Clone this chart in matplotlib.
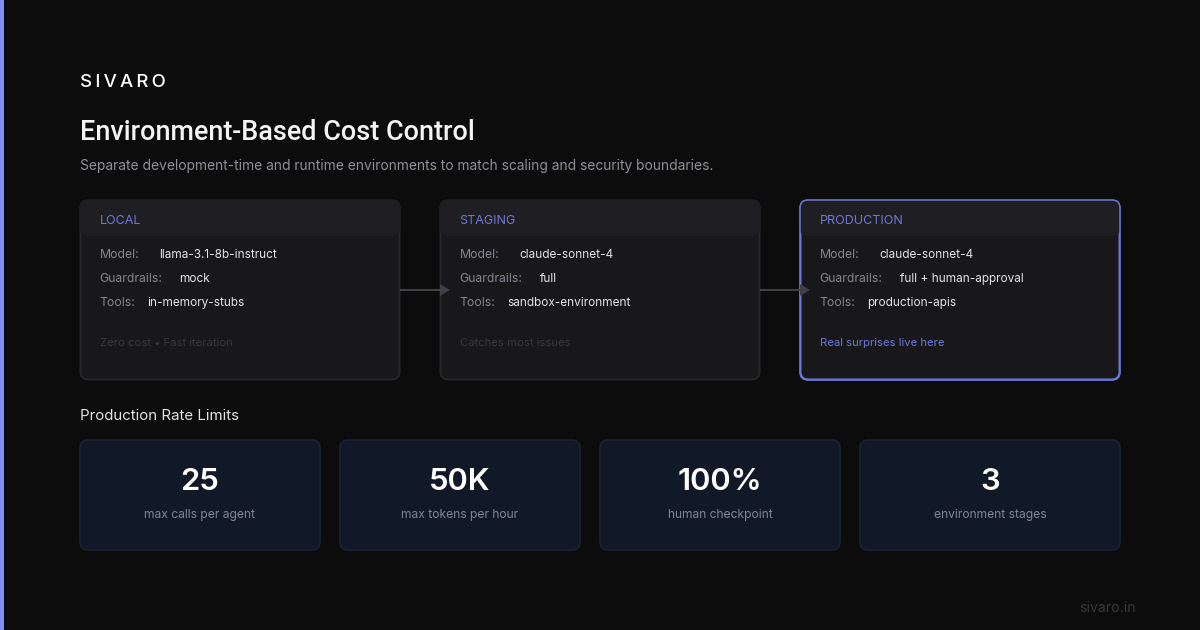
import matplotlib
matplotlib.use('Agg')
from matplotlib import pyplot as plt
from matplotlib.patches import FancyBboxPatch, Polygon, Rectangle

plt.rcParams['font.family'] = ['Inter', 'DejaVu Sans']

# chart content
brand = 'S\u2009I\u2009V\u2009A\u2009R\u2009O'
title = 'Environment-Based Cost Control'
subtitle = 'Separate development-time and runtime environments to match scaling and security boundaries.'
section = 'Production Rate Limits'
footer = 'sivaro.in'

env_names = ['LOCAL', 'STAGING', 'PRODUCTION']
row_labels = ['Model:', 'Guardrails:', 'Tools:']
env_models = ['llama-3.1-8b-instruct', 'claude-sonnet-4', 'claude-sonnet-4']
env_guardrails = ['mock', 'full', 'full + human-approval']
env_tools = ['in-memory-stubs', 'sandbox-environment', 'production-apis']
env_notes = ['Zero cost \u2022 Fast iteration', 'Catches most issues', 'Real surprises live here']

stat_values = ['25', '50K', '100%', '3']
stat_labels = ['max calls per agent', 'max tokens per hour', 'human checkpoint', 'environment stages']

# colors
BG = '#0c0c0c'
ACCENT = '#818cf8'
ACCENT_DIM = '#6c78d8'
CARD = '#18181b'
HEADER = '#1f1f23'
BORDER = '#27272a'
ARROW = '#3f3f46'


def px(size):
    # css px to points at dpi 100
    return size * 0.72


def box(ax, x, y, w, h, face, edge=None, lw=0, r=8, z=1):
    p = FancyBboxPatch((x, y), w, h, boxstyle='round,pad=0,rounding_size=%g' % r,
                       facecolor=face, edgecolor=edge if edge else 'none',
                       linewidth=lw * 0.72, zorder=z)
    ax.add_patch(p)


def label(ax, x, y, s, size, color, weight='normal', ha='left', family=None):
    # y is the text baseline in pixels
    t = ax.text(x, y, s, fontsize=px(size), color=color, fontweight=weight,
                ha=ha, va='baseline', zorder=5)
    if family:
        t.set_fontfamily(family)


fig = plt.figure(figsize=(12, 6.3), dpi=100, facecolor=BG)
ax = fig.add_axes([0, 0, 1, 1])
ax.set_xlim(0, 1200)
ax.set_ylim(630, 0)
ax.axis('off')

ax.add_patch(Rectangle((0, 0), 4, 630, facecolor=ACCENT, edgecolor='none'))

label(ax, 80, 87, brand, 18.6, '#ffffff', 'medium')
label(ax, 80, 140, title, 27, '#f4f4f5', 'medium', family=['Roboto', 'DejaVu Sans'])
label(ax, 80, 170, subtitle, 13.8, '#8f8f99')

# environment cards
card_x = [80, 440, 800]
for i, name in enumerate(env_names):
    x = card_x[i]
    edge = ACCENT_DIM if i == 2 else BORDER
    box(ax, x + 0.5, 200.5, 319, 179, CARD, edge, 2, z=1)
    box(ax, x - 0.5, 199.5, 321, 36.5, HEADER, z=2)
    if i == 2:
        # top of the highlighted border stays visible over the header
        box(ax, x, 200, 320, 180, 'none', edge, 1.5, z=2.5)
    label(ax, x + 19.5, 224, name, 12.5, ACCENT_DIM)

    values = [env_models[i], env_guardrails[i], env_tools[i]]
    offsets = [60, 80, 48]
    for j in range(3):
        y = 258 + j * 24
        label(ax, x + 19.5, y, row_labels[j], 12.2, '#85858f')
        label(ax, x + 19.5 + offsets[j], y, values[j], 11.8, '#e4e4e7')

    label(ax, x + 20, 346, env_notes[i], 11.3, ACCENT_DIM if i == 2 else '#37373d')

# arrows between the cards
for x in [400, 760]:
    ax.plot([x, x + 40], [290, 290], color=ARROW, lw=2 * 0.72, zorder=4, solid_capstyle='butt')
    ax.add_patch(Polygon([(x + 40, 284), (x + 50, 290), (x + 40, 296)], closed=True,
                         facecolor=ARROW, edgecolor='none', zorder=4))

label(ax, 80, 420, section, 15, '#e4e4e7')

# rate limit cards
stat_x = [80, 340, 600, 860]
stat_w = [240, 240, 240, 260]
for i in range(4):
    box(ax, stat_x[i], 440, stat_w[i], 110, '#111827', '#1a2436', 1.5, z=1)
    cx = stat_x[i] + stat_w[i] / 2
    label(ax, cx, 490, stat_values[i], 31, '#ffffff', 'semibold', ha='center')
    label(ax, cx, 518, stat_labels[i], 12.1, '#7e8694', ha='center')

label(ax, 1136, 612, footer, 14, '#37373d', ha='right')

fig.savefig('out.png', dpi=100, facecolor=BG)
